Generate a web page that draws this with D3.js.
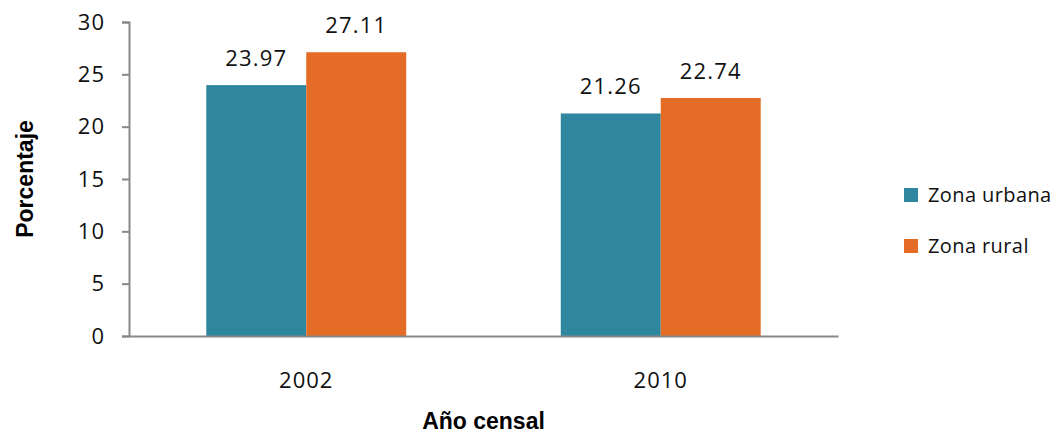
<!DOCTYPE html>
<html>
<head>
<meta charset="utf-8">
<script src="https://cdn.jsdelivr.net/npm/d3@7"></script>
<style>
  html, body { margin: 0; padding: 0; background: #fff; }
  svg { display: block; }
</style>
</head>
<body>
<svg id="chart" width="1055" height="440"></svg>
<script>
// Census years and percentage by area
const years = ["2002", "2010"];
const seriesNames = ["Zona urbana", "Zona rural"];
const urbana = [23.97, 21.26];
const rural = [27.11, 22.74];
const yTicks = [0, 5, 10, 15, 20, 25, 30];
const colors = ["#2E879F", "#E56C26"];

const svg = d3.select("#chart");
const plot = { left: 129, right: 838, top: 22, bottom: 336 };

const x = d3.scaleBand()
  .domain(years)
  .range([plot.left, plot.right])
  .paddingInner(0.436)
  .paddingOuter(0.218);

const xs = d3.scaleBand()
  .domain(seriesNames)
  .range([0, x.bandwidth()]);

const y = d3.scaleLinear().domain([0, 30]).range([plot.bottom, plot.top]);

const rows = years.map((yr, i) => ({ year: yr, values: [urbana[i], rural[i]] }));

// Bars
const groups = svg.append("g").selectAll("g").data(rows).join("g")
  .attr("transform", d => `translate(${x(d.year)},0)`);

groups.selectAll("rect").data(d => d.values.map((v, k) => ({ k, v }))).join("rect")
  .attr("x", d => xs(seriesNames[d.k]))
  .attr("y", d => y(d.v))
  .attr("width", xs.bandwidth())
  .attr("height", d => y(0) - y(d.v))
  .attr("fill", d => colors[d.k]);

// Value labels
groups.selectAll("text.val").data(d => d.values.map((v, k) => ({ k, v }))).join("text")
  .attr("class", "val")
  .attr("x", d => xs(seriesNames[d.k]) + xs.bandwidth() / 2)
  .attr("y", d => y(d.v) - 19)
  .attr("text-anchor", "middle")
  .attr("font-family", "'Open Sans', sans-serif")
  .attr("font-size", 22)
  .attr("letter-spacing", 1.2)
  .attr("fill", "#111")
  .text(d => d.v.toFixed(2));

// Y axis
const yAxis = svg.append("g")
  .attr("transform", `translate(${plot.left},0)`)
  .call(d3.axisLeft(y).tickValues(yTicks).tickSize(7).tickSizeOuter(7).tickPadding(17));
yAxis.select(".domain").attr("stroke", "#888").attr("stroke-width", 2);
yAxis.selectAll(".tick line").attr("stroke", "#888").attr("stroke-width", 2);
yAxis.selectAll(".tick text")
  .attr("font-family", "'Open Sans', sans-serif")
  .attr("font-size", 22)
  .attr("letter-spacing", 1)
  .attr("fill", "#111");

// X axis
const xAxis = svg.append("g")
  .attr("transform", `translate(0,${plot.bottom})`)
  .call(d3.axisBottom(x).tickSize(0).tickSizeOuter(0).tickPadding(36));
xAxis.select(".domain").attr("stroke", "#888").attr("stroke-width", 2);
xAxis.selectAll(".tick text")
  .attr("font-family", "'Open Sans', sans-serif")
  .attr("font-size", 22)
  .attr("letter-spacing", 1)
  .attr("fill", "#111");

// Axis titles
svg.append("text")
  .attr("x", (plot.left + plot.right) / 2)
  .attr("y", 429)
  .attr("text-anchor", "middle")
  .attr("font-family", "'Liberation Sans', Arial, sans-serif")
  .attr("font-weight", "bold")
  .attr("font-size", 23)
  .attr("fill", "#000")
  .text("Año censal");

svg.append("text")
  .attr("transform", `translate(33,${(plot.top + plot.bottom) / 2}) rotate(-90)`)
  .attr("text-anchor", "middle")
  .attr("font-family", "'Liberation Sans', Arial, sans-serif")
  .attr("font-weight", "bold")
  .attr("font-size", 23)
  .attr("fill", "#000")
  .text("Porcentaje");

// Legend
const legend = svg.append("g").selectAll("g").data(seriesNames).join("g")
  .attr("transform", (d, i) => `translate(904,${188 + i * 51})`);
legend.append("rect").attr("width", 14).attr("height", 14).attr("fill", (d, i) => colors[i]);
legend.append("text")
  .attr("x", 24)
  .attr("y", 7)
  .attr("dy", "0.35em")
  .attr("font-family", "'Open Sans', sans-serif")
  .attr("font-size", 20)
  .attr("letter-spacing", 0.4)
  .attr("fill", "#111")
  .text(d => d);
</script>
</body>
</html>
